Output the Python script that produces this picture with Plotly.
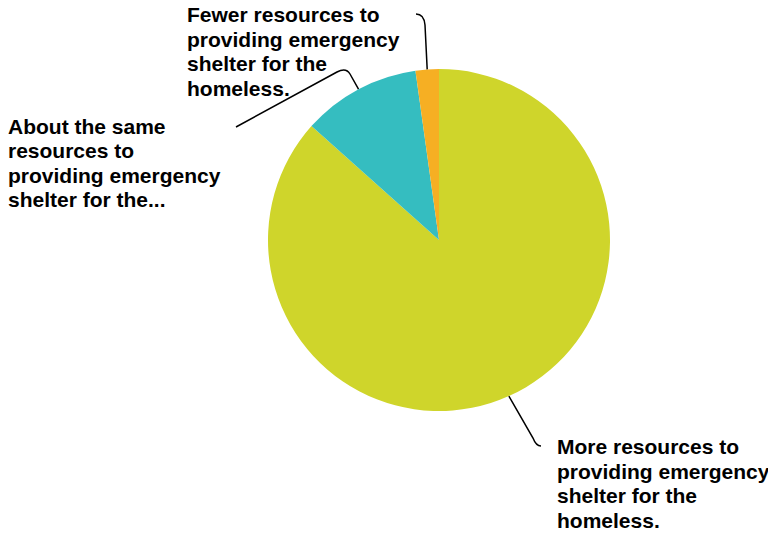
import math
import plotly.graph_objects as go

# ---- data ----
categories = [
    "More resources to providing emergency shelter for the homeless.",
    "About the same resources to providing emergency shelter for the homeless.",
    "Fewer resources to providing emergency shelter for the homeless.",
]
values = [86.6, 11.2, 2.2]
colors = ["#CFD52B", "#35BDC0", "#F6AF23"]
label_lines = [
    ["More resources to", "providing emergency", "shelter for the", "homeless."],
    ["About the same", "resources to", "providing emergency", "shelter for the..."],
    ["Fewer resources to", "providing emergency", "shelter for the", "homeless."],
]

# ---- layout geometry (page pixels) ----
PAGE_W, PAGE_H = 776, 533
OFF = 8  # default body margin of the html page
W, H = PAGE_W - OFF, PAGE_H - OFF
CX, CY, R = 439, 240, 171
label_pos = [(556, 454), (7, 133.5), (186, 22)]  # left x, first baseline y
LINE_H = 24.6
FS = 21
# connector tails near labels: (bend point, control, end[, extra])
conn_tail = [
    [(533, 438), (536, 446), (541, 446)],
    [(350, 74), (346, 67), (337, 72), (236, 127)],
    [(425, 25), (424, 14), (416, 14)],
]

def px(x, y):
    return (x - OFF) / W, 1 - (y - OFF) / H

dx0, dy1 = px(CX - R, CY - R)
dx1, dy0 = px(CX + R, CY + R)

fig = go.Figure(go.Pie(
    labels=categories, values=values, sort=False, direction="clockwise",
    rotation=0, textinfo="none", hoverinfo="label+percent",
    marker=dict(colors=colors, line=dict(width=0)),
    domain=dict(x=[dx0, dx1], y=[dy0, dy1]),
    showlegend=False,
))

annotations = []
shapes = []
total = sum(values)
cum = 0
for i, v in enumerate(values):
    mid = (cum + v / 2) / total * 2 * math.pi
    cum += v
    sx, sy = CX + R * math.sin(mid), CY - R * math.cos(mid)
    tail = conn_tail[i]
    def p(pt):
        a, b = px(*pt)
        return f"{a:.5f},{b:.5f}"
    path = f"M {p((sx, sy))} L {p(tail[0])} Q {p(tail[1])} {p(tail[2])}"
    if len(tail) > 3:
        path += f" L {p(tail[3])}"
    shapes.append(dict(type="path", path=path, xref="paper", yref="paper",
                       line=dict(color="#000000", width=1.5)))
    lx, ly = label_pos[i]
    for j, line in enumerate(label_lines[i]):
        bx, by = px(lx, ly + j * LINE_H - 0.3 * FS - 1)
        annotations.append(dict(text=f"<b>{line}</b>", x=bx, y=by, xref="paper", yref="paper",
                                xanchor="left", yanchor="middle", showarrow=False,
                                align="left", borderpad=0,
                                font=dict(family="Liberation Sans, Arial", size=FS, color="#000000")))

fig.update_layout(
    width=W, height=H, margin=dict(l=0, r=0, t=0, b=0),
    paper_bgcolor="white", plot_bgcolor="white",
    annotations=annotations, shapes=shapes,
)
fig.write_html("out.html")
